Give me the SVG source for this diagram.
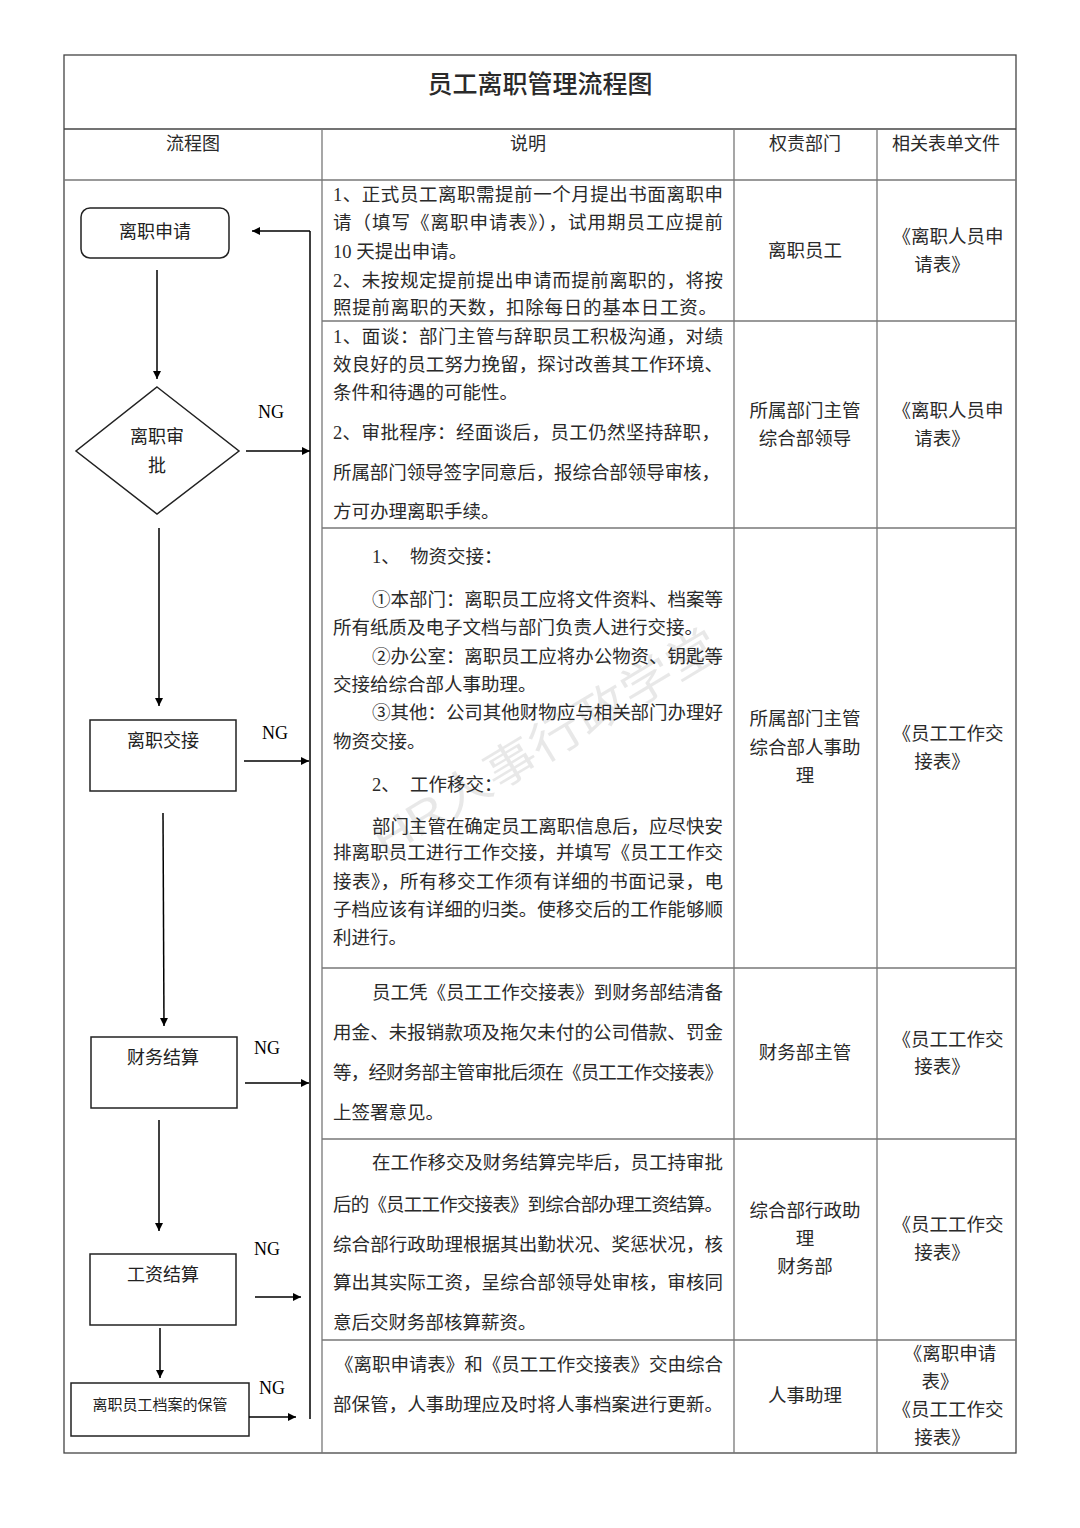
<svg xmlns="http://www.w3.org/2000/svg" width="1080" height="1528" viewBox="0 0 1080 1528">
<defs>
<marker id="ah" viewBox="0 0 10 10" refX="10" refY="5" markerWidth="8" markerHeight="8" markerUnits="userSpaceOnUse" orient="auto">
<path d="M0,0 L10,5 L0,10 z" fill="#000"/>
</marker>
<style>
.t{font-family:"Liberation Serif","Noto Sans CJK SC",sans-serif;fill:#2a2a2a;font-size:18.5px}
.c{text-anchor:middle}
.h{font-size:18px}
.ttl{font-size:25px}
.n{font-family:"Liberation Serif","Noto Sans CJK SC",sans-serif;fill:#222;font-size:18px;text-anchor:middle}
.ng{font-family:"Liberation Serif",serif;fill:#000;font-size:18px}
.g{stroke:#777;stroke-width:1.3;fill:none}
.o{stroke:#444;stroke-width:1.3;fill:none}
.box{fill:#fff;stroke:#222;stroke-width:1.5}
.ln{stroke:#000;stroke-width:1.5;fill:none}
.ar{stroke:#000;stroke-width:1.5;fill:none;marker-end:url(#ah)}
</style>
</defs>
<rect width="1080" height="1528" fill="#fff"/>

<g id="table">
<rect x="64" y="55" width="952" height="1398" class="o"/>
<line x1="64" y1="129" x2="1016" y2="129" class="o"/>
<line x1="64" y1="180" x2="1016" y2="180" class="g"/>
<line x1="322" y1="129" x2="322" y2="1453" class="g"/>
<line x1="734" y1="129" x2="734" y2="1453" class="g"/>
<line x1="877" y1="129" x2="877" y2="1453" class="g"/>
<line x1="322" y1="321" x2="1016" y2="321" class="g"/>
<line x1="322" y1="528" x2="1016" y2="528" class="g"/>
<line x1="322" y1="968" x2="1016" y2="968" class="g"/>
<line x1="322" y1="1139" x2="1016" y2="1139" class="g"/>
<line x1="322" y1="1340" x2="1016" y2="1340" class="g"/>
<text class="t c ttl" x="540" y="93" font-weight="500">员工离职管理流程图</text>
<text class="t c h" x="193" y="150">流程图</text>
<text class="t c h" x="528" y="150">说明</text>
<text class="t c h" x="805" y="150">权责部门</text>
<text class="t c h" x="946" y="150">相关表单文件</text>
</g>

<text x="385" y="858" transform="rotate(-31 385 858)" font-family="Liberation Sans,Noto Sans CJK SC,sans-serif" font-size="46" fill="#000" fill-opacity="0.09" textLength="395" lengthAdjust="spacingAndGlyphs">HR人事行政学堂</text>

<g id="desc">
<text class="t" x="333" y="201" textLength="390">1、正式员工离职需提前一个月提出书面离职申</text>
<text class="t" x="333" y="229" textLength="390">请（填写《离职申请表》），试用期员工应提前</text>
<text class="t" x="333" y="258">10 天提出申请。</text>
<text class="t" x="333" y="287" textLength="390">2、未按规定提前提出申请而提前离职的，将按</text>
<text class="t" x="333" y="314" textLength="384">照提前离职的天数，扣除每日的基本日工资。</text>

<text class="t" x="333" y="343" textLength="390">1、面谈：部门主管与辞职员工积极沟通，对绩</text>
<text class="t" x="333" y="371" textLength="390">效良好的员工努力挽留，探讨改善其工作环境、</text>
<text class="t" x="333" y="399">条件和待遇的可能性。</text>
<text class="t" x="333" y="439" textLength="387">2、审批程序：经面谈后，员工仍然坚持辞职，</text>
<text class="t" x="333" y="479" textLength="387">所属部门领导签字同意后，报综合部领导审核，</text>
<text class="t" x="333" y="518">方可办理离职手续。</text>

<text class="t" x="372" y="563">1、</text>
<text class="t" x="410" y="563">物资交接：</text>
<text class="t" x="372" y="606" textLength="351">①本部门：离职员工应将文件资料、档案等</text>
<text class="t" x="333" y="634" textLength="370">所有纸质及电子文档与部门负责人进行交接。</text>
<text class="t" x="372" y="663" textLength="351">②办公室：离职员工应将办公物资、钥匙等</text>
<text class="t" x="333" y="691">交接给综合部人事助理。</text>
<text class="t" x="372" y="719" textLength="351">③其他：公司其他财物应与相关部门办理好</text>
<text class="t" x="333" y="748">物资交接。</text>
<text class="t" x="372" y="791">2、</text>
<text class="t" x="410" y="791">工作移交：</text>
<text class="t" x="372" y="833" textLength="351">部门主管在确定员工离职信息后，应尽快安</text>
<text class="t" x="333" y="859" textLength="390">排离职员工进行工作交接，并填写《员工工作交</text>
<text class="t" x="333" y="888" textLength="390">接表》，所有移交工作须有详细的书面记录，电</text>
<text class="t" x="333" y="916" textLength="390">子档应该有详细的归类。使移交后的工作能够顺</text>
<text class="t" x="333" y="944">利进行。</text>

<text class="t" x="372" y="999" textLength="351">员工凭《员工工作交接表》到财务部结清备</text>
<text class="t" x="333" y="1039" textLength="390">用金、未报销款项及拖欠未付的公司借款、罚金</text>
<text class="t" x="333" y="1079" textLength="390">等，经财务部主管审批后须在《员工工作交接表》</text>
<text class="t" x="333" y="1119">上签署意见。</text>

<text class="t" x="372" y="1169" textLength="351">在工作移交及财务结算完毕后，员工持审批</text>
<text class="t" x="333" y="1211" textLength="390">后的《员工工作交接表》到综合部办理工资结算。</text>
<text class="t" x="333" y="1251" textLength="390">综合部行政助理根据其出勤状况、奖惩状况，核</text>
<text class="t" x="333" y="1289" textLength="390">算出其实际工资，呈综合部领导处审核，审核同</text>
<text class="t" x="333" y="1329">意后交财务部核算薪资。</text>

<text class="t" x="335" y="1371" textLength="388">《离职申请表》和《员工工作交接表》交由综合</text>
<text class="t" x="333" y="1411" textLength="390">部保管，人事助理应及时将人事档案进行更新。</text>
</g>

<g id="dept">
<text class="t c" x="805" y="257">离职员工</text>
<text class="t c" x="805" y="417">所属部门主管</text>
<text class="t c" x="805" y="445">综合部领导</text>
<text class="t c" x="805" y="725">所属部门主管</text>
<text class="t c" x="805" y="754">综合部人事助</text>
<text class="t c" x="805" y="782">理</text>
<text class="t c" x="805" y="1059">财务部主管</text>
<text class="t c" x="805" y="1217">综合部行政助</text>
<text class="t c" x="805" y="1245">理</text>
<text class="t c" x="805" y="1273">财务部</text>
<text class="t c" x="805" y="1402">人事助理</text>
</g>

<g id="forms">
<text class="t c" x="948" y="243">《离职人员申</text>
<text class="t c" x="942" y="271">请表》</text>
<text class="t c" x="948" y="417">《离职人员申</text>
<text class="t c" x="942" y="445">请表》</text>
<text class="t c" x="948" y="740">《员工工作交</text>
<text class="t c" x="942" y="768">接表》</text>
<text class="t c" x="948" y="1046">《员工工作交</text>
<text class="t c" x="942" y="1073">接表》</text>
<text class="t c" x="948" y="1231">《员工工作交</text>
<text class="t c" x="942" y="1259">接表》</text>
<text class="t c" x="950" y="1360">《离职申请</text>
<text class="t c" x="940" y="1388">表》</text>
<text class="t c" x="948" y="1416">《员工工作交</text>
<text class="t c" x="942" y="1444">接表》</text>
</g>

<g id="n1"><rect x="81" y="208" width="148" height="50" rx="9" class="box"/><text class="n" x="155" y="238">离职申请</text></g>
<g id="n2"><polygon points="157,387 239,451 157,514 76,451" class="box"/><text class="n" x="157" y="443">离职审</text><text class="n" x="157" y="472">批</text></g>
<g id="n3"><rect x="90" y="720" width="146" height="71" class="box"/><text class="n" x="163" y="747">离职交接</text></g>
<g id="n4"><rect x="91" y="1037" width="146" height="71" class="box"/><text class="n" x="163" y="1064">财务结算</text></g>
<g id="n5"><rect x="90" y="1254" width="146" height="71" class="box"/><text class="n" x="163" y="1281">工资结算</text></g>
<g id="n6"><rect x="71" y="1383" width="178" height="53" class="box"/><text class="n" x="160" y="1410" style="font-size:15px">离职员工档案的保管</text></g>

<g id="connectors">
<line x1="157" y1="270" x2="157" y2="379" class="ar"/>
<line x1="159" y1="528" x2="159" y2="706" class="ar"/>
<line x1="163" y1="813" x2="164" y2="1026" class="ar"/>
<line x1="159" y1="1120" x2="159" y2="1231" class="ar"/>
<line x1="160" y1="1328" x2="160" y2="1378" class="ar"/>
<line x1="310" y1="231" x2="310" y2="1419" class="ln"/>
<line x1="310" y1="231" x2="252" y2="231" class="ar"/>
<line x1="246" y1="451" x2="310" y2="451" class="ar"/>
<line x1="244" y1="761" x2="309" y2="761" class="ar"/>
<line x1="245" y1="1083" x2="309" y2="1083" class="ar"/>
<line x1="255" y1="1297" x2="301" y2="1297" class="ar"/>
<line x1="249" y1="1417" x2="296" y2="1417" class="ar"/>
<text class="ng" x="258" y="418">NG</text>
<text class="ng" x="262" y="739">NG</text>
<text class="ng" x="254" y="1054">NG</text>
<text class="ng" x="254" y="1255">NG</text>
<text class="ng" x="259" y="1394">NG</text>
</g>
</svg>
